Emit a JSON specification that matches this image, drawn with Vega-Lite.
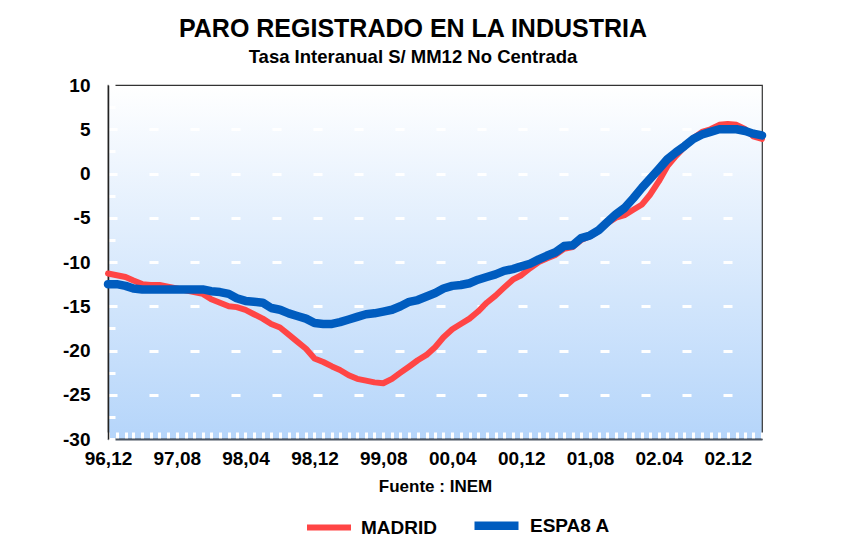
{
  "$schema": "https://vega.github.io/schema/vega-lite/v6.json",
  "width": 654,
  "height": 354,
  "autosize": {"type": "none"},
  "padding": {"left": 108, "top": 85, "right": 92, "bottom": 105},
  "background": "white",
  "view": {
    "stroke": "#333",
    "strokeWidth": 1.2,
    "fill": {"gradient": "linear", "x1": 0, "y1": 0, "x2": 0, "y2": 1,
      "stops": [{"offset": 0, "color": "#ffffff"}, {"offset": 1, "color": "#b5d5fa"}]}
  },
  "title": {
    "text": "PARO REGISTRADO EN LA INDUSTRIA",
    "subtitle": "Tasa Interanual S/ MM12 No Centrada",
    "anchor": "middle",
    "dx": -22,
    "fontSize": 25,
    "fontWeight": "bold",
    "color": "black",
    "subtitleFontSize": 18.5,
    "subtitleFontWeight": "bold",
    "subtitleColor": "black",
    "subtitlePadding": 6,
    "offset": 10
  },
  "config": {
    "font": "Liberation Sans",
    "legend": {
      "orient": "none",
      "legendX": 196,
      "legendY": 414,
      "direction": "horizontal",
      "symbolType": "stroke",
      "symbolSize": 1936,
      "labelFontSize": 19,
      "labelFontWeight": "bold",
      "labelColor": "black",
      "labelOffset": 7,
      "columnPadding": 20,
      "title": null
    }
  },
  "data": {
    "values": [
      {"fecha": "1996-12", "MADRID": -11.3, "ESPA8 A": -12.5},
      {"fecha": "1997-01", "MADRID": -11.5, "ESPA8 A": -12.5},
      {"fecha": "1997-02", "MADRID": -11.7, "ESPA8 A": -12.7},
      {"fecha": "1997-03", "MADRID": -12.1, "ESPA8 A": -13.0},
      {"fecha": "1997-04", "MADRID": -12.5, "ESPA8 A": -13.1},
      {"fecha": "1997-05", "MADRID": -12.6, "ESPA8 A": -13.1},
      {"fecha": "1997-06", "MADRID": -12.6, "ESPA8 A": -13.1},
      {"fecha": "1997-07", "MADRID": -12.8, "ESPA8 A": -13.1},
      {"fecha": "1997-08", "MADRID": -13.0, "ESPA8 A": -13.1},
      {"fecha": "1997-09", "MADRID": -13.2, "ESPA8 A": -13.1},
      {"fecha": "1997-10", "MADRID": -13.4, "ESPA8 A": -13.1},
      {"fecha": "1997-11", "MADRID": -13.6, "ESPA8 A": -13.1},
      {"fecha": "1997-12", "MADRID": -14.2, "ESPA8 A": -13.3},
      {"fecha": "1998-01", "MADRID": -14.6, "ESPA8 A": -13.4},
      {"fecha": "1998-02", "MADRID": -15.0, "ESPA8 A": -13.6},
      {"fecha": "1998-03", "MADRID": -15.1, "ESPA8 A": -14.1},
      {"fecha": "1998-04", "MADRID": -15.4, "ESPA8 A": -14.4},
      {"fecha": "1998-05", "MADRID": -15.9, "ESPA8 A": -14.5},
      {"fecha": "1998-06", "MADRID": -16.4, "ESPA8 A": -14.6},
      {"fecha": "1998-07", "MADRID": -17.0, "ESPA8 A": -15.2},
      {"fecha": "1998-08", "MADRID": -17.4, "ESPA8 A": -15.4},
      {"fecha": "1998-09", "MADRID": -18.2, "ESPA8 A": -15.8},
      {"fecha": "1998-10", "MADRID": -19.0, "ESPA8 A": -16.1},
      {"fecha": "1998-11", "MADRID": -19.8, "ESPA8 A": -16.4},
      {"fecha": "1998-12", "MADRID": -20.9, "ESPA8 A": -16.9},
      {"fecha": "1999-01", "MADRID": -21.3, "ESPA8 A": -17.0},
      {"fecha": "1999-02", "MADRID": -21.8, "ESPA8 A": -17.0},
      {"fecha": "1999-03", "MADRID": -22.2, "ESPA8 A": -16.8},
      {"fecha": "1999-04", "MADRID": -22.8, "ESPA8 A": -16.5},
      {"fecha": "1999-05", "MADRID": -23.2, "ESPA8 A": -16.2},
      {"fecha": "1999-06", "MADRID": -23.4, "ESPA8 A": -15.9},
      {"fecha": "1999-07", "MADRID": -23.6, "ESPA8 A": -15.8},
      {"fecha": "1999-08", "MADRID": -23.7, "ESPA8 A": -15.6},
      {"fecha": "1999-09", "MADRID": -23.2, "ESPA8 A": -15.4},
      {"fecha": "1999-10", "MADRID": -22.5, "ESPA8 A": -15.0},
      {"fecha": "1999-11", "MADRID": -21.8, "ESPA8 A": -14.5},
      {"fecha": "1999-12", "MADRID": -21.1, "ESPA8 A": -14.3},
      {"fecha": "2000-01", "MADRID": -20.5, "ESPA8 A": -13.9},
      {"fecha": "2000-02", "MADRID": -19.6, "ESPA8 A": -13.5},
      {"fecha": "2000-03", "MADRID": -18.5, "ESPA8 A": -13.0},
      {"fecha": "2000-04", "MADRID": -17.6, "ESPA8 A": -12.7},
      {"fecha": "2000-05", "MADRID": -17.0, "ESPA8 A": -12.6},
      {"fecha": "2000-06", "MADRID": -16.4, "ESPA8 A": -12.4},
      {"fecha": "2000-07", "MADRID": -15.6, "ESPA8 A": -12.0},
      {"fecha": "2000-08", "MADRID": -14.6, "ESPA8 A": -11.7},
      {"fecha": "2000-09", "MADRID": -13.8, "ESPA8 A": -11.4},
      {"fecha": "2000-10", "MADRID": -12.9, "ESPA8 A": -11.0},
      {"fecha": "2000-11", "MADRID": -12.0, "ESPA8 A": -10.8},
      {"fecha": "2000-12", "MADRID": -11.5, "ESPA8 A": -10.5},
      {"fecha": "2001-01", "MADRID": -10.7, "ESPA8 A": -10.2},
      {"fecha": "2001-02", "MADRID": -10.0, "ESPA8 A": -9.7},
      {"fecha": "2001-03", "MADRID": -9.6, "ESPA8 A": -9.3},
      {"fecha": "2001-04", "MADRID": -9.2, "ESPA8 A": -8.9},
      {"fecha": "2001-05", "MADRID": -8.5, "ESPA8 A": -8.2},
      {"fecha": "2001-06", "MADRID": -8.3, "ESPA8 A": -8.1},
      {"fecha": "2001-07", "MADRID": -7.5, "ESPA8 A": -7.3},
      {"fecha": "2001-08", "MADRID": -7.1, "ESPA8 A": -7.0},
      {"fecha": "2001-09", "MADRID": -6.5, "ESPA8 A": -6.4},
      {"fecha": "2001-10", "MADRID": -5.6, "ESPA8 A": -5.5},
      {"fecha": "2001-11", "MADRID": -5.0, "ESPA8 A": -4.6},
      {"fecha": "2001-12", "MADRID": -4.7, "ESPA8 A": -3.9},
      {"fecha": "2002-01", "MADRID": -4.1, "ESPA8 A": -2.8},
      {"fecha": "2002-02", "MADRID": -3.5, "ESPA8 A": -1.6},
      {"fecha": "2002-03", "MADRID": -2.4, "ESPA8 A": -0.6},
      {"fecha": "2002-04", "MADRID": -0.9, "ESPA8 A": 0.5},
      {"fecha": "2002-05", "MADRID": 0.8, "ESPA8 A": 1.6},
      {"fecha": "2002-06", "MADRID": 2.0, "ESPA8 A": 2.4},
      {"fecha": "2002-07", "MADRID": 3.0, "ESPA8 A": 3.1},
      {"fecha": "2002-08", "MADRID": 4.0, "ESPA8 A": 3.9},
      {"fecha": "2002-09", "MADRID": 4.7, "ESPA8 A": 4.4},
      {"fecha": "2002-10", "MADRID": 5.0, "ESPA8 A": 4.7},
      {"fecha": "2002-11", "MADRID": 5.5, "ESPA8 A": 5.0},
      {"fecha": "2002-12", "MADRID": 5.6, "ESPA8 A": 5.0},
      {"fecha": "2003-01", "MADRID": 5.5, "ESPA8 A": 5.0},
      {"fecha": "2003-02", "MADRID": 5.0, "ESPA8 A": 4.8},
      {"fecha": "2003-03", "MADRID": 4.2, "ESPA8 A": 4.5},
      {"fecha": "2003-04", "MADRID": 3.9, "ESPA8 A": 4.3}
    ]
  },
  "transform": [
    {"fold": ["MADRID", "ESPA8 A"], "as": ["serie", "valor"]}
  ],
  "encoding": {
    "x": {
      "field": "fecha",
      "type": "temporal",
      "scale": {"type": "utc", "nice": false},
      "axis": {
        "title": "Fuente : INEM",
        "titleFontSize": 17,
        "titleFontWeight": "bold",
        "titleColor": "black",
        "titlePadding": 10,
        "labelFontSize": 19,
        "labelFontWeight": "bold",
        "labelColor": "black",
        "labelPadding": 17,
        "labelOverlap": false,
        "labelFlush": false,
        "tickCount": {"interval": "month", "step": 1},
        "labelExpr": "(((utcyear(datum.value)-1996)*12+utcmonth(datum.value)-11)%8==0) ? (utcyear(datum.value)>=2002 ? utcFormat(datum.value,'%y.%m') : utcFormat(datum.value,'%y,%m')) : ''",
        "grid": false,
        "tickColor": "white",
        "tickWidth": 3,
        "tickSize": -7,
        "domainColor": "#4a5562",
        "domainWidth": 2
      }
    },
    "y": {
      "field": "valor",
      "type": "quantitative",
      "scale": {"domain": [-30, 10], "nice": false},
      "axis": {
        "title": null,
        "values": [-30, -27.5, -25, -22.5, -20, -17.5, -15, -12.5, -10, -7.5, -5, -2.5, 0, 2.5, 5, 7.5, 10],
        "labelExpr": "datum.value % 5 === 0 ? ('' + datum.value) : ''",
        "labelFontSize": 19,
        "labelFontWeight": "bold",
        "labelColor": "black",
        "labelPadding": 25,
        "grid": true,
        "gridColor": "white",
        "gridDash": [9, 32],
        "gridWidth": 3,
        "gridOpacity": {"condition": {"test": "datum.value % 5 === 0 && datum.value < 10 && datum.value > -30", "value": 1}, "value": 0},
        "tickColor": "white",
        "tickWidth": 3,
        "tickSize": -7,
        "domainColor": "#222",
        "domainWidth": 1.5
      }
    }
  },
  "layer": [
    {
      "mark": {"type": "rule", "color": "white", "strokeWidth": 3},
      "encoding": {"y": {"datum": 0}}
    },
    {
      "mark": {"type": "line", "strokeJoin": "round", "strokeCap": "round"},
      "encoding": {
        "color": {
          "field": "serie",
          "type": "nominal",
          "scale": {"domain": ["MADRID", "ESPA8 A"], "range": ["#ff4545", "#005cbf"]},
          "legend": {"title": null}
        },
        "strokeWidth": {
          "field": "serie",
          "type": "nominal",
          "scale": {"domain": ["MADRID", "ESPA8 A"], "range": [6, 8.5]},
          "legend": {"title": null}
        }
      }
    }
  ]
}
